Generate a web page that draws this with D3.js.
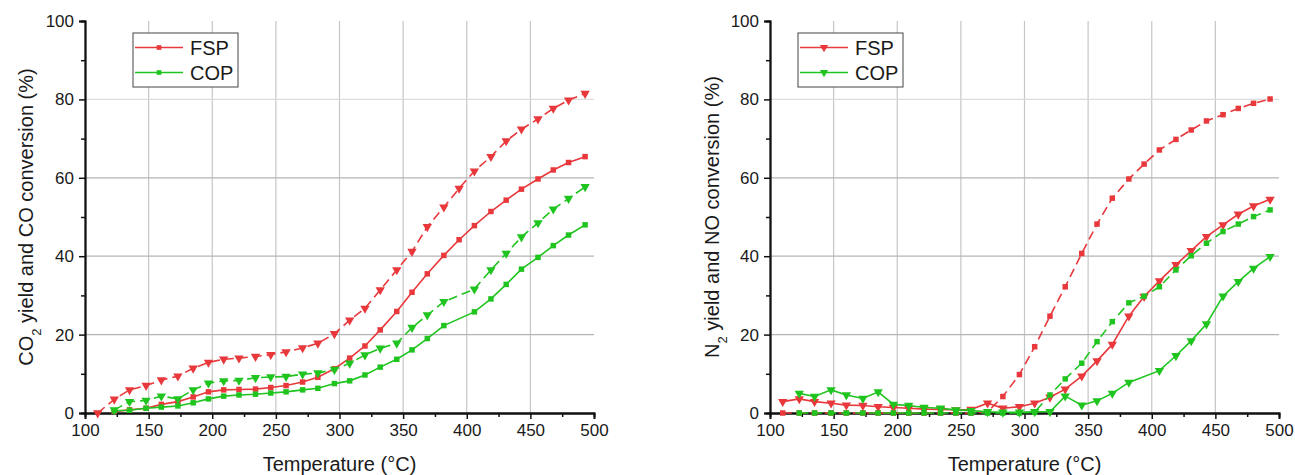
<!DOCTYPE html>
<html>
<head>
<meta charset="utf-8">
<script src="https://cdn.jsdelivr.net/npm/d3@7"></script>
<style>
  body { margin: 0; background: #fff; }
  text { font-family: "Liberation Sans", Arial, sans-serif; fill: #1a1a1a; }
</style>
</head>
<body>
<script>
// temperatures (°C) shared by all series
const temps = [110, 123, 135, 148, 160, 173, 185, 197, 209, 221, 234, 246, 258, 271, 283, 296,
  308, 320, 332, 345, 357, 369, 382, 394, 406, 419, 431, 443, 456, 468, 480, 493];

// left panel: CO2 yield (squares, solid) and CO conversion (triangles, dashed)
const fspCO = [0, 3.5, 5.9, 7.0, 8.4, 9.4, 11.4, 12.9, 13.7, 14.0, 14.4, 14.9, 15.6, 16.6, 17.8, 20.2,
  23.7, 26.7, 31.4, 36.5, 41.2, 47.5, 52.5, 57.3, 61.7, 65.4, 69.4, 72.4, 75.0, 77.7, 79.8, 81.5];
const fspCO2 = [null, 0.4, 0.8, 1.2, 2.2, 2.9, 4.1, 5.4, 5.9, 6.0, 6.1, 6.5, 7.0, 7.9, 9.1, 11.3,
  14.0, 17.1, 21.2, 25.9, 30.8, 35.5, 40.2, 44.2, 47.8, 51.4, 54.3, 57.1, 59.7, 62.0, 63.9, 65.4];
const copCO = [null, 0.8, 2.9, 3.2, 4.3, 3.6, 5.9, 7.6, 8.2, 8.3, 9.0, 9.2, 9.3, 9.9, 10.2, 11.1,
  12.7, 14.8, 16.5, 17.8, 21.8, 25.0, 28.4, null, 31.6, 36.5, 40.7, 44.9, 48.5, 52.0, 54.7, 57.7];
const copCO2 = [null, 0.6, 0.7, 1.2, 1.5, 1.8, 2.6, 3.6, 4.3, 4.6, 4.8, 5.1, 5.4, 5.9, 6.3, 7.5,
  8.2, 9.7, 11.7, 13.7, 16.1, 19.0, 22.3, null, 25.8, 29.1, 32.8, 36.7, 39.7, 42.7, 45.4, 48.0];

// right panel: N2 yield (triangles, solid) and NO conversion (squares, dashed)
const fspN2 = [2.9, 3.6, 2.9, 2.5, 2.0, 1.9, 1.6, 1.4, 1.2, 1.0, 0.9, 0.8, 0.9, 2.5, 1.2, 1.6,
  2.5, 4.0, 6.1, 9.4, 13.3, 17.5, 24.7, 29.7, 33.7, 37.8, 41.4, 45.0, 48.0, 50.7, 52.8, 54.5];
const fspNO = [0, 0, 0, 0, 0, 0, 0, 0, 0, 0, 0, 0, 0, 0.3, 4.2, 9.8,
  16.9, 24.7, 32.2, 40.7, 48.2, 54.8, 59.7, 63.5, 67.1, 69.8, 72.2, 74.5, 76.1, 77.7, 79.0, 80.1];
const copN2 = [null, 5.0, 4.2, 5.9, 4.6, 3.7, 5.4, 2.2, 1.9, 1.4, 1.2, 0.8, 0.6, 0.3, 0.2, 0.2,
  0.3, 0.3, 4.3, 2.0, 3.1, 5.0, 7.8, null, 10.8, 14.6, 18.4, 22.7, 29.8, 33.5, 36.9, 39.9];
const copNO = [null, 0, 0, 0, 0, 0, 0, 0, 0, 0, 0, 0, 0, 0, 0, 0,
  0.2, 4.6, 8.7, 12.7, 18.2, 23.3, 28.1, 29.8, 32.2, 36.5, 40.1, 43.3, 46.3, 48.2, 50.1, 51.8];

const xTicks = [100, 150, 200, 250, 300, 350, 400, 450, 500];
const yTicks = [0, 20, 40, 60, 80, 100];
const legendNames = ["FSP", "COP"];

const red = "#e8383b";
const green = "#1fc41f";

const svg = d3.select("body")
  .append("svg")
  .attr("width", 1295)
  .attr("height", 475);

function drawPanel(cfg) {
  const x = d3.scaleLinear().domain([100, 500]).range([cfg.left, cfg.left + 509]);
  const y = d3.scaleLinear().domain([0, 100]).range([413, 21]);
  const g = svg.append("g");

  // Grid
  g.selectAll(".vgrid")
    .data(xTicks.slice(1, -1))
    .enter()
    .append("line")
    .attr("x1", d => x(d)).attr("x2", d => x(d))
    .attr("y1", y(0)).attr("y2", y(100))
    .attr("stroke", "#c6c6c6")
    .attr("stroke-width", 1.2);

  g.selectAll(".hgrid")
    .data(yTicks.slice(1, -1))
    .enter()
    .append("line")
    .attr("x1", x(100)).attr("x2", x(500))
    .attr("y1", d => y(d)).attr("y2", d => y(d))
    .attr("stroke", d => d === 80 ? "#dcdcdc" : "#b4b4b4")
    .attr("stroke-width", 1.2);

  // Axes
  const xAxis = d3.axisBottom(x).tickValues(xTicks).tickSize(6).tickPadding(5).tickFormat(d3.format("d"));
  const xMinor = d3.axisBottom(x).tickValues(d3.range(125, 500, 50)).tickSize(4).tickFormat("");
  const yAxis = d3.axisLeft(y).tickValues(yTicks).tickSize(6).tickPadding(5);
  const yMinor = d3.axisLeft(y).tickValues([10, 30, 50, 70, 90]).tickSize(4).tickFormat("");

  [[xAxis, "x"], [xMinor, "x"], [yAxis, "y"], [yMinor, "y"]].forEach(([ax, k]) => {
    const a = g.append("g")
      .attr("transform", k === "x" ? `translate(0, ${y(0)})` : `translate(${x(100)}, 0)`)
      .call(ax);
    a.select(".domain").attr("stroke", "#111").attr("stroke-width", 1.8);
    a.selectAll(".tick line").attr("stroke", "#111").attr("stroke-width", 1.5);
    a.selectAll(".tick text").style("font-size", "17px").attr("fill", "#1a1a1a");
  });

  // Series
  cfg.series.forEach(s => {
    const pts = temps.map((t, i) => [t, s.values[i]]).filter(p => p[1] !== null);
    const line = d3.line().x(p => x(p[0])).y(p => y(p[1]));
    g.append("path")
      .attr("d", line(pts))
      .attr("fill", "none")
      .attr("stroke", s.color)
      .attr("stroke-width", 1.6)
      .attr("stroke-dasharray", s.dashed ? "9,5" : null);

    const sym = s.marker === "tri"
      ? d3.symbol().type(d3.symbolTriangle).size(38)
      : d3.symbol().type(d3.symbolSquare).size(30);
    g.selectAll(null)
      .data(pts)
      .enter()
      .append("path")
      .attr("d", sym)
      .attr("transform", p => `translate(${x(p[0])},${y(p[1])})` + (s.marker === "tri" ? " rotate(180)" : ""))
      .attr("fill", s.color);
  });

  // Legend
  const lx = x(100) + cfg.legendDx;
  g.append("rect")
    .attr("x", lx).attr("y", 33)
    .attr("width", 105).attr("height", 54)
    .attr("fill", "#fff")
    .attr("stroke", "#444")
    .attr("stroke-width", 1);
  legendNames.forEach((name, i) => {
    const ly = 47.5 + i * 25;
    const c = i === 0 ? red : green;
    g.append("line")
      .attr("x1", lx + 2).attr("x2", lx + 50)
      .attr("y1", ly).attr("y2", ly)
      .attr("stroke", c).attr("stroke-width", 1.4);
    const sym = cfg.legendMarker === "tri"
      ? d3.symbol().type(d3.symbolTriangle).size(30)
      : d3.symbol().type(d3.symbolSquare).size(22);
    g.append("path")
      .attr("d", sym)
      .attr("transform", `translate(${lx + 26},${ly})` + (cfg.legendMarker === "tri" ? " rotate(180)" : ""))
      .attr("fill", c);
    g.append("text")
      .attr("x", lx + 57).attr("y", ly + 7)
      .style("font-size", "20px")
      .text(name);
  });

  // Axis titles
  g.append("text")
    .attr("x", (x(100) + x(500)) / 2)
    .attr("y", 471)
    .attr("text-anchor", "middle")
    .style("font-size", "20px")
    .text("Temperature (°C)");

  const yt = g.append("text")
    .attr("transform", `translate(${cfg.titleX}, 217) rotate(-90)`)
    .attr("text-anchor", "middle")
    .style("font-size", "20px");
  yt.append("tspan").text(cfg.yTitle[0]);
  yt.append("tspan").attr("baseline-shift", "sub").style("font-size", "13px").text("2");
  yt.append("tspan").text(cfg.yTitle[1]);
}

drawPanel({
  left: 85,
  legendDx: 48,
  legendMarker: "sq",
  titleX: 33,
  yTitle: ["CO", " yield and CO conversion (%)"],
  series: [
    { values: fspCO, color: red, dashed: true, marker: "tri" },
    { values: fspCO2, color: red, dashed: false, marker: "sq" },
    { values: copCO, color: green, dashed: true, marker: "tri" },
    { values: copCO2, color: green, dashed: false, marker: "sq" }
  ]
});

drawPanel({
  left: 770,
  legendDx: 28,
  legendMarker: "tri",
  titleX: 719,
  yTitle: ["N", " yield and NO conversion (%)"],
  series: [
    { values: fspNO, color: red, dashed: true, marker: "sq" },
    { values: fspN2, color: red, dashed: false, marker: "tri" },
    { values: copNO, color: green, dashed: true, marker: "sq" },
    { values: copN2, color: green, dashed: false, marker: "tri" }
  ]
});
</script>
</body>
</html>
